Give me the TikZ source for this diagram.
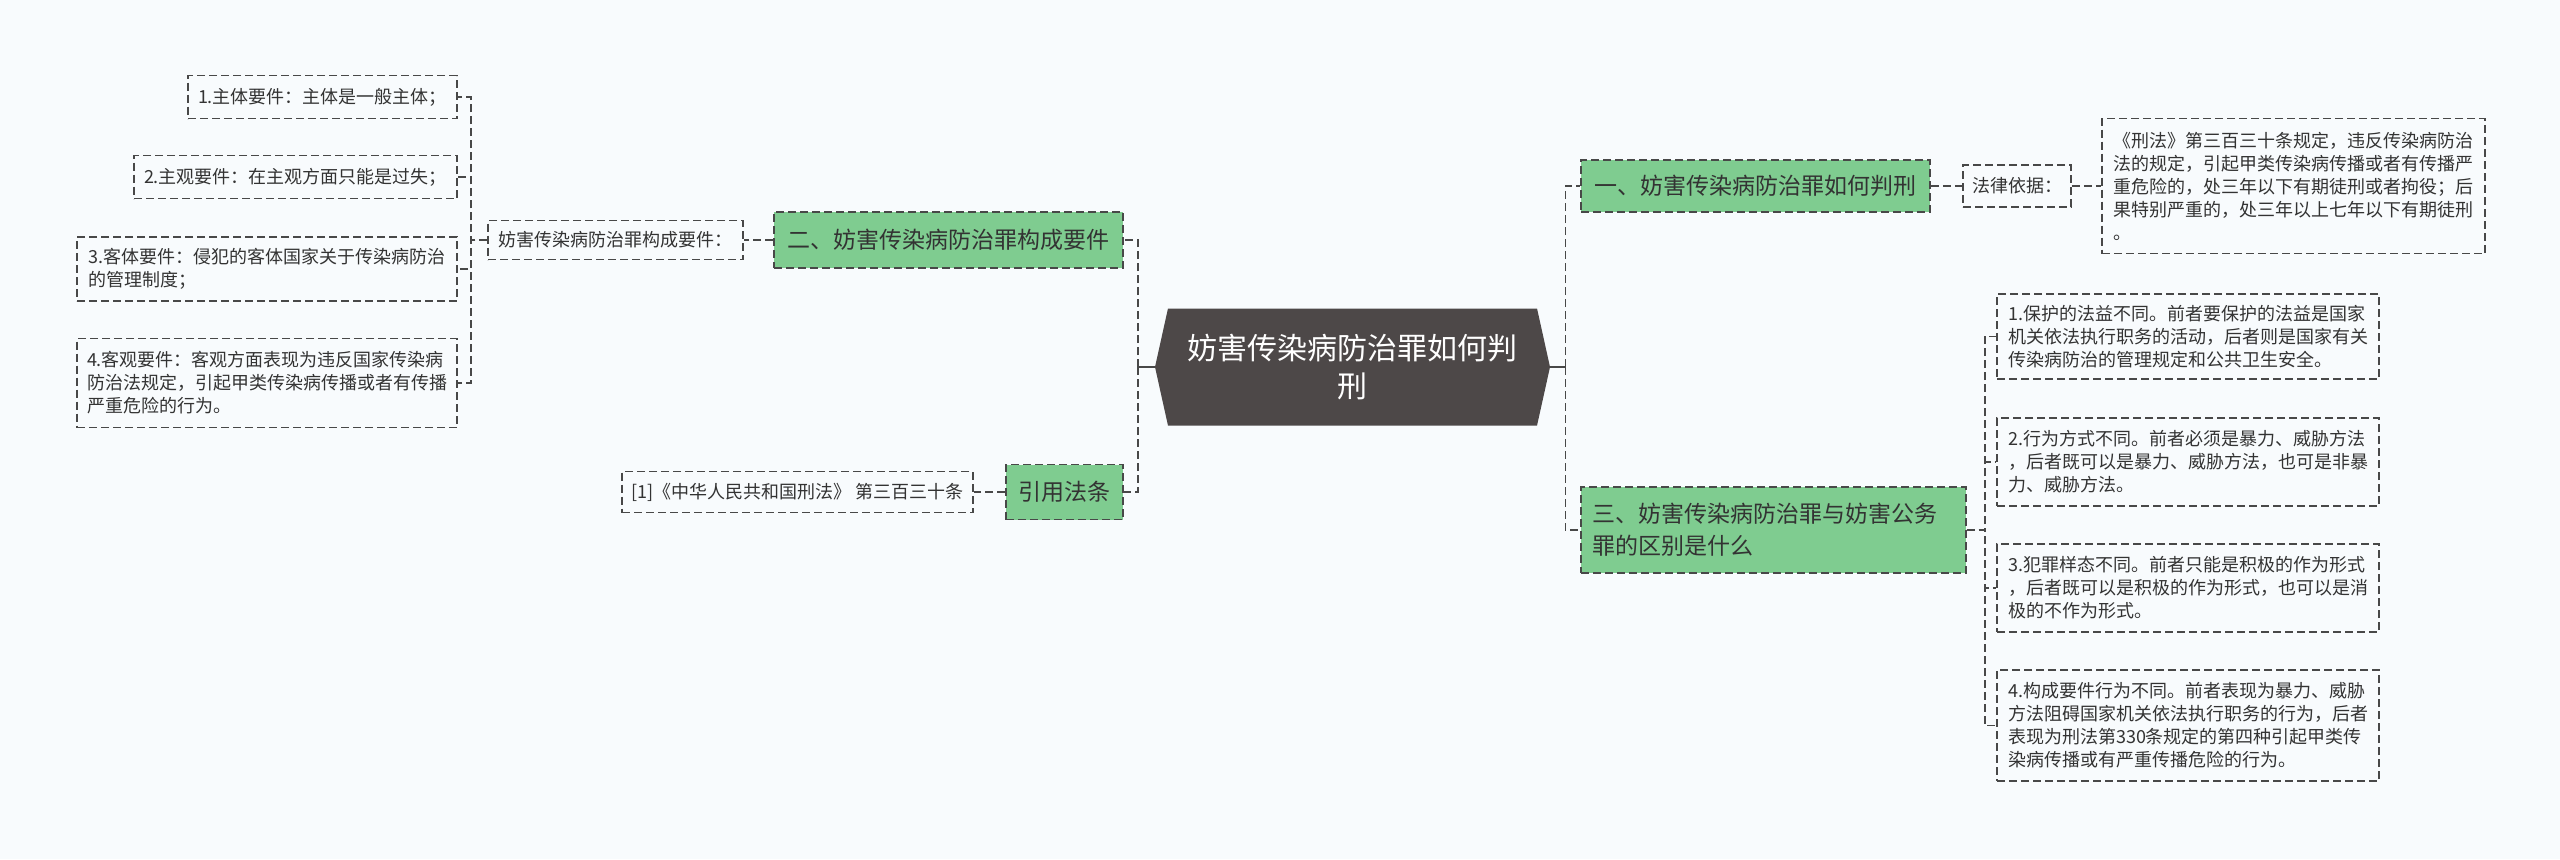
\documentclass[tikz,border=0pt]{standalone}
\usepackage{fontspec}
\setmainfont{Noto Sans CJK SC}
\usetikzlibrary{shapes.symbols}
\definecolor{paper}{HTML}{F8FBFD}
\definecolor{rootgray}{HTML}{4D4848}
\definecolor{leafgreen}{HTML}{7FCC90}
\definecolor{ink}{HTML}{333333}
\definecolor{wire}{HTML}{484848}
\begin{document}
\begin{tikzpicture}
  [
    x=0.5pt, y=-0.5pt,
    root/.style =
      {signal, signal to=west and east, signal pointer angle=155, fill=rootgray,
       text=white, align=center, inner sep=0pt, font=\fontsize{15}{19}\selectfont},
    topic/.style =
      {draw=wire, dash pattern=on 4pt off 2pt, line width=0.9pt, fill=leafgreen,
       text=ink, align=left, inner sep=0pt, font=\fontsize{11.5}{16}\selectfont},
    leaf/.style =
      {draw=wire, dash pattern=on 4pt off 2pt, line width=0.9pt,
       text=ink, align=left, inner sep=0pt, font=\fontsize{9}{11.5}\selectfont},
    link/.style =
      {draw=wire, dash pattern=on 4pt off 2pt, line width=0.9pt},
    stub/.style =
      {draw=wire, line width=0.9pt}
  ]
  \path[use as bounding box, fill=paper] (0,0) rectangle (2560,859);

  \node [root,  minimum width=197.5pt, minimum height=58.5pt] at (1352.5,367) (root) {妨害传染病防治罪如何判\\刑};

  \node [topic, minimum width=174.5pt, minimum height=26pt]   at (1755.5,186) (jud)   {一、妨害传染病防治罪如何判刑};
  \node [leaf,  minimum width=54pt,    minimum height=21pt]   at (2017,186)   (basis) {法律依据：};
  \node [leaf,  minimum width=191.5pt, minimum height=67.5pt] at (2293.5,186) (law)   {《刑法》第三百三十条规定，违反传染病防治\\法的规定，引起甲类传染病传播或者有传播严\\重危险的，处三年以下有期徒刑或者拘役；后\\果特别严重的，处三年以上七年以下有期徒刑\\。};

  \node [topic, minimum width=192.5pt, minimum height=43pt, text width=181pt] at (1773.5,530) (diff) {三、妨害传染病防治罪与妨害公务\\罪的区别是什么};
  \node [leaf,  minimum width=191pt,   minimum height=42.5pt] at (2188,336.5) (d1)    {1.保护的法益不同。前者要保护的法益是国家\\机关依法执行职务的活动，后者则是国家有关\\传染病防治的管理规定和公共卫生安全。};
  \node [leaf,  minimum width=191pt,   minimum height=44pt]   at (2188,462)   (d2)    {2.行为方式不同。前者必须是暴力、威胁方法\\，后者既可以是暴力、威胁方法，也可是非暴\\力、威胁方法。};
  \node [leaf,  minimum width=191pt,   minimum height=44pt]   at (2188,588)   (d3)    {3.犯罪样态不同。前者只能是积极的作为形式\\，后者既可以是积极的作为形式，也可以是消\\极的不作为形式。};
  \node [leaf,  minimum width=191pt,   minimum height=55.5pt] at (2188,725.5) (d4)    {4.构成要件行为不同。前者表现为暴力、威胁\\方法阻碍国家机关依法执行职务的行为，后者\\表现为刑法第330条规定的第四种引起甲类传\\染病传播或有严重传播危险的行为。};

  \node [topic, minimum width=174.5pt, minimum height=28pt]   at (948.5,240)  (cons)    {二、妨害传染病防治罪构成要件};
  \node [leaf,  minimum width=127.5pt, minimum height=19.5pt] at (615.5,240)  (conslbl) {妨害传染病防治罪构成要件：};
  \node [leaf,  minimum width=134.5pt, minimum height=21.5pt] at (322.5,97)   (c1)      {1.主体要件：主体是一般主体；};
  \node [leaf,  minimum width=161.5pt, minimum height=21.5pt] at (295.5,177)  (c2)      {2.主观要件：在主观方面只能是过失；};
  \node [leaf,  minimum width=190pt,   minimum height=32pt]   at (267,269)    (c3)      {3.客体要件：侵犯的客体国家关于传染病防治\\的管理制度；};
  \node [leaf,  minimum width=190pt,   minimum height=44.5pt] at (267,383)    (c4)      {4.客观要件：客观方面表现为违反国家传染病\\防治法规定，引起甲类传染病传播或者有传播\\严重危险的行为。};

  \node [topic, minimum width=58.5pt,  minimum height=27.5pt] at (1064.5,492) (cite)    {引用法条};
  \node [leaf,  minimum width=175.5pt, minimum height=20.5pt] at (797.5,492)  (citelaw) {[1]《中华人民共和国刑法》 第三百三十条};

  \draw[stub] (root.east)             -- ++(15,0);
  \draw[stub] (root.west)             -- ++(-17,0);
  \draw[link] (root.east)  ++(15,0)   |- (jud.west);
  \draw[link] (root.east)  ++(15,0)   |- (diff.west);
  \draw[link] (root.west)  ++(-17,0)  |- (cons.east);
  \draw[link] (root.west)  ++(-17,0)  |- (cite.east);
  \draw[link] (jud.east)              -- (basis.west);
  \draw[link] (basis.east)            -- (law.west);
  \draw[link] (diff.east)  -- ++(18,0) |- (d1.west);
  \draw[link] (diff.east)  -- ++(18,0) |- (d2.west);
  \draw[link] (diff.east)  -- ++(18,0) |- (d3.west);
  \draw[link] (diff.east)  -- ++(18,0) |- (d4.west);
  \draw[link] (cons.west)             -- (conslbl.east);
  \draw[link] (conslbl.west) -- ++(-16,0) |- (c1.east);
  \draw[link] (conslbl.west) -- ++(-16,0) |- (c2.east);
  \draw[link] (conslbl.west) -- ++(-16,0) |- (c3.east);
  \draw[link] (conslbl.west) -- ++(-16,0) |- (c4.east);
  \draw[link] (cite.west)             -- (citelaw.east);
\end{tikzpicture}
\end{document}
